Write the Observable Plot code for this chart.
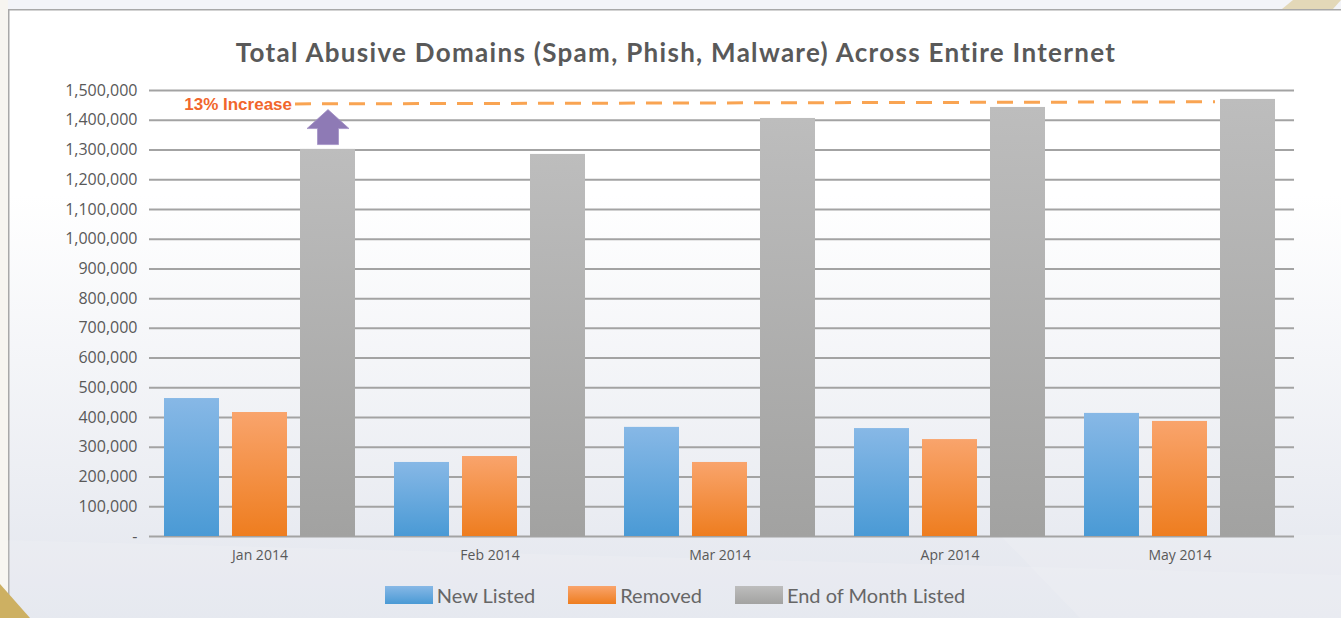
<!DOCTYPE html>
<html><head><meta charset="utf-8">
<script src="https://cdn.jsdelivr.net/npm/d3@7"></script>
<script src="https://cdn.jsdelivr.net/npm/@observablehq/plot@0.6"></script>
<style>
html,body{margin:0;padding:0;}
body{width:1341px;height:618px;overflow:hidden;background:#f3f4f8;}
#wrap{position:relative;width:1341px;height:618px;overflow:hidden;}
#deco{position:absolute;left:0;top:0;}
#title{position:absolute;left:0;top:40px;width:1352px;text-align:center;font:700 26px/24px Lato, sans-serif;letter-spacing:1.3px;color:#595959;white-space:nowrap;}
#chart{position:absolute;left:0;top:70px;}
#legend{position:absolute;left:0;top:585px;width:1350px;display:flex;justify-content:center;gap:33px;}
#legend .item{display:flex;align-items:center;}
#legend .sw{display:inline-block;width:48px;height:18px;margin-right:4px;}
#legend .lab{font:400 20px/20px Lato, sans-serif;color:#666666;}
</style></head>
<body><div id="wrap">
<svg id="deco" width="1341" height="618">
  <defs>
    <linearGradient id="panelBg" x1="0" y1="0" x2="0" y2="1">
      <stop offset="0" stop-color="#ffffff"/>
      <stop offset="0.3" stop-color="#ffffff"/>
      <stop offset="1" stop-color="#e2e5ed"/>
    </linearGradient>
  </defs>
  <rect x="0" y="0" width="8" height="618" fill="#f7f5f0"/>
  <rect x="8.75" y="9.75" width="1340" height="620" fill="url(#panelBg)" stroke="#a8a8a8" stroke-width="1.5"/>
  <polygon points="0,540 1341,575 1341,618 0,618" fill="#ffffff" opacity="0.12"/>
  <polygon points="1000,535 1080,618 1341,618 1341,535" fill="#ffffff" opacity="0.12"/>
  <polygon points="1282,9 1293,0 1341,0 1333,9" fill="#e3d8b8"/>
  <polygon points="0,584 30,618 0,618" fill="#cdb062"/>
</svg>
<div id="title">Total Abusive Domains (Spam, Phish, Malware) Across Entire Internet</div>
<div id="chart"></div>
<div id="legend"></div>
</div>
<script>
const months = ["Jan 2014", "Feb 2014", "Mar 2014", "Apr 2014", "May 2014"];
const seriesNames = ["New Listed", "Removed", "End of Month Listed"];
const newListed = [464000, 249000, 367000, 363000, 414000];
const removed = [417000, 269000, 249000, 326000, 387000];
const endOfMonth = [1302000, 1285000, 1406000, 1443000, 1470000];
const yTicks = [0, 100000, 200000, 300000, 400000, 500000, 600000, 700000, 800000, 900000, 1000000, 1100000, 1200000, 1300000, 1400000, 1500000];
const increaseLabel = "13% Increase";
const increaseLine = [{from: "Jan 2014", to: "May 2014", y1: 1455000, y2: 1462000}];
const increaseText = [{month: "Jan 2014", value: 1453000, label: increaseLabel}];
const arrowAt = [{month: "Jan 2014", value: 1377000}];

const gradients = [
  {id: "gBlue", top: "#87b8e6", bottom: "#4a9ad5"},
  {id: "gOrange", top: "#f9a46c", bottom: "#ee7d1f"},
  {id: "gGray", top: "#bdbdbd", bottom: "#a2a2a1"}
];

const seriesValues = [newListed, removed, endOfMonth];
const rows = months.flatMap((m, i) => seriesNames.map((s, k) => ({month: m, series: s, value: seriesValues[k][i]})));

const barStep = 68;
const barMarks = seriesNames.map((s, k) => Plot.barY(rows.filter(d => d.series === s), {
  x: "month", y: "value", fill: `url(#${gradients[k].id})`,
  insetLeft: k * barStep, insetRight: (2 - k) * barStep
}));

const blockArrow = {
  draw(ctx) {
    ctx.moveTo(0, -17.5); ctx.lineTo(21, 1.5); ctx.lineTo(10.5, 1.5); ctx.lineTo(10.5, 17.5);
    ctx.lineTo(-10.5, 17.5); ctx.lineTo(-10.5, 1.5); ctx.lineTo(-21, 1.5); ctx.closePath();
  }
};

const fmt = d3.format(",");
const plot = Plot.plot({
  width: 1341, height: 506,
  marginLeft: 149, marginRight: 47, marginTop: 20, marginBottom: 40,
  style: {fontFamily: "'Open Sans', sans-serif", fontSize: "16px", color: "#595959", background: "transparent", overflow: "visible"},
  x: {domain: months, paddingInner: 0.17, paddingOuter: 0.073, align: 0.446},
  y: {domain: [0, 1500000]},
  marks: [
    Plot.ruleY(yTicks, {stroke: "#a3a3a3", strokeWidth: 2}),
    ...barMarks,
    Plot.axisY({ticks: yTicks, tickSize: 0, tickPadding: 12, tickFormat: d => d === 0 ? "-" : fmt(d), fill: "#595959", fontSize: 16, label: null}),
    Plot.axisX({tickSize: 0, tickPadding: 14, fontSize: 14, fill: "#595959", label: null}),
    Plot.link(increaseLine, {x1: "from", x2: "to", y1: "y1", y2: "y2", dx: 35, stroke: "#f9a452", strokeWidth: 3, strokeDasharray: "16,11"}),
    Plot.text(increaseText, {x: "month", y: "value", text: "label", textAnchor: "end", dx: 32, fontWeight: "bold", fontSize: 17, fontFamily: "'Liberation Sans', Arial, sans-serif", fill: "#f1662c"}),
    Plot.dot(arrowAt, {x: "month", y: "value", dx: barStep, symbol: blockArrow, fill: "#8e7ab5", stroke: "#a493c6", strokeWidth: 0.8})
  ]
});

const defs = d3.select(plot).insert("defs", ":first-child");
gradients.forEach(g => {
  const lg = defs.append("linearGradient").attr("id", g.id).attr("x1", 0).attr("y1", 0).attr("x2", 0).attr("y2", 1);
  lg.append("stop").attr("offset", 0).attr("stop-color", g.top);
  lg.append("stop").attr("offset", 1).attr("stop-color", g.bottom);
});
document.getElementById("chart").appendChild(plot);

const legend = d3.select("#legend");
seriesNames.forEach((s, k) => {
  const it = legend.append("div").attr("class", "item");
  it.append("span").attr("class", "sw").style("background", `linear-gradient(${gradients[k].top}, ${gradients[k].bottom})`);
  it.append("span").attr("class", "lab").text(s);
});
</script>
</body></html>
